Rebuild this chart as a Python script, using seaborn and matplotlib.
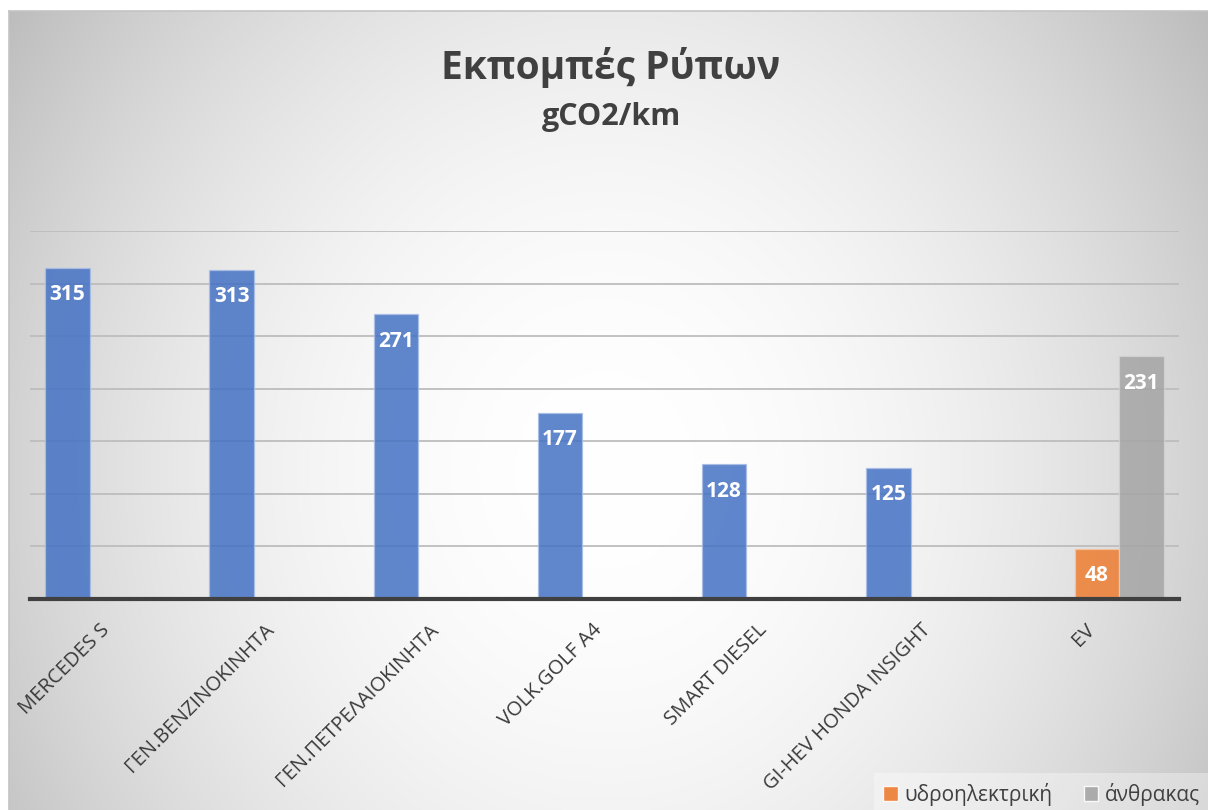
import numpy as np
import pandas as pd
import matplotlib
matplotlib.use("Agg")
import matplotlib.pyplot as plt
import matplotlib.transforms as mtransforms
from matplotlib.patches import Patch
import seaborn as sns

# ---- data ----
categories = ["MERCEDES S", "ΓΕΝ.ΒΕΝΖΙΝΟΚΙΝΗΤΑ", "ΓΕΝ.ΠΕΤΡΕΛΑΙΟΚΙΝΗΤΑ", "VOLK.GOLF A4",
              "SMART DIESEL", "GI-HEV HONDA INSIGHT", "EV"]
series_names = ["Series1", "υδροηλεκτρική", "άνθρακας"]
series1 = [315, 313, 271, 177, 128, 125, np.nan]
hydro = [np.nan, np.nan, np.nan, np.nan, np.nan, np.nan, 48]
coal = [np.nan, np.nan, np.nan, np.nan, np.nan, np.nan, 231]
colors = ["#4472C4", "#ED7D31", "#A5A5A5"]
title = "Εκπομπές Ρύπων"
subtitle = "gCO2/km"

rows = []
for name, vals in zip(series_names, [series1, hydro, coal]):
    for c, v in zip(categories, vals):
        if not np.isnan(v):
            rows.append({"cat": c, "series": name, "value": v})
df = pd.DataFrame(rows)

sns.set_style("white")
plt.rcParams['font.family'] = ['Open Sans', 'DejaVu Sans']

W, H = 1208, 810
fig = plt.figure(figsize=(W / 100, H / 100), dpi=100)
fig.patch.set_facecolor("white")

# radial gradient background
bg = fig.add_axes([9 / W, 0, (W - 9) / W, (H - 11) / H], zorder=-5)
yy, xx = np.mgrid[11:H, 9:W]
r2 = ((xx - 605) / 740.0) ** 2 + ((yy - 470) / 820.0) ** 2
val = np.clip(1 - 0.27 * r2, 0, 1)
img = np.dstack([val, val, val])
bg.imshow(img, aspect="auto", interpolation="bilinear")
bg.set_xticks([]); bg.set_yticks([])
for s in ["bottom", "right"]:
    bg.spines[s].set_visible(False)
for s in ["top", "left"]:
    bg.spines[s].set_color("#c4c4c4")
    bg.spines[s].set_linewidth(1.2)

ax = fig.add_axes([30 / W, 211 / H, 1149 / W, 368 / H])
ax.set_facecolor("none")
sns.barplot(data=df, x="cat", y="value", hue="series", order=categories,
            hue_order=series_names, palette=colors, dodge=True, width=0.814,
            saturation=1, alpha=0.85, linewidth=0.9, legend=False, ax=ax,
            err_kws={"linewidth": 0})
edge_cols = ["#a9bde6", "#f5c3a0", "#d2d2d2"]
for cont, ec in zip(ax.containers, edge_cols):
    for p in cont:
        p.set_edgecolor(ec)
    ax.bar_label(cont, fmt="%.0f", label_type="edge", padding=-27, color="white",
                 fontweight="bold", fontsize=15)

ax.set_xlim(-0.5, len(categories) - 0.5)
ax.set_ylim(0, 350)
ax.set_yticks(np.arange(0, 351, 50))
ax.set_yticklabels([])
ax.tick_params(axis="y", length=0)
ax.yaxis.grid(True, color="#bdbdbd", linewidth=1.3)
ax.set_axisbelow(True)
ax.set_xlabel(""); ax.set_ylabel("")
for s in ["top", "right", "left"]:
    ax.spines[s].set_visible(False)
ax.spines["bottom"].set_color("#404040")
ax.spines["bottom"].set_linewidth(3)
ax.tick_params(axis="x", length=0, pad=15)
ax.set_xticks(range(len(categories)))
ax.set_xticklabels(categories, rotation=45, ha="right", va="top",
                   rotation_mode="anchor", fontsize=14.5, color="#3a3a3a")
off = mtransforms.ScaledTranslation(-12 / 100, 0, fig.dpi_scale_trans)
for lab in ax.get_xticklabels():
    lab.set_transform(lab.get_transform() + off)

fig.text(611 / W, 1 - 68 / H, title, ha="center", va="center", fontsize=28,
         fontweight="bold", color="#404040")
fig.text(612 / W, 1 - 117 / H, subtitle, ha="center", va="center", fontsize=22,
         fontweight="bold", color="#404040")

handles = [Patch(facecolor=colors[1], alpha=0.9), Patch(facecolor=colors[2], alpha=0.9)]
leg = fig.legend(handles, series_names[1:], loc="lower right",
                 bbox_to_anchor=(1.006, -0.014), ncol=2, frameon=True, fontsize=15,
                 handlelength=0.7, handleheight=0.7, handletextpad=0.3,
                 columnspacing=1.5, borderpad=0.45, borderaxespad=0.3,
                 fancybox=False)
leg.get_frame().set_facecolor("white")
leg.get_frame().set_alpha(0.35)
leg.get_frame().set_edgecolor("none")
for t in leg.get_texts():
    t.set_color("#404040")

fig.savefig("out.png", dpi=100)
